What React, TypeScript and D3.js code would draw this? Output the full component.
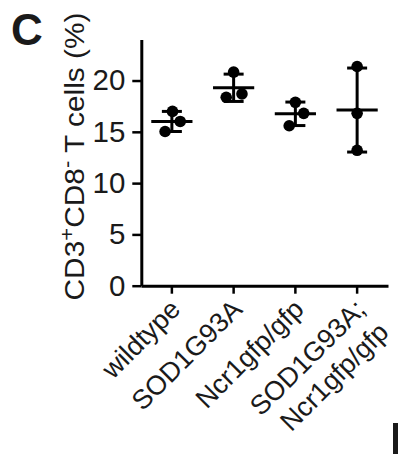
import React, { useEffect, useRef } from 'react'
import * as d3 from 'd3'

// genotypes on the x axis (last one is split over two lines)
const categories = ['wildtype', 'SOD1G93A', 'Ncr1gfp/gfp', 'SOD1G93A;Ncr1gfp/gfp']
const categoryLines = [['wildtype'], ['SOD1G93A'], ['Ncr1gfp/gfp'], ['SOD1G93A;', 'Ncr1gfp/gfp']]

// individual animals, % CD3+CD8- T cells
const wildtypeValues = [16.99, 16.01, 15.03]
const sod1Values = [20.82, 18.69, 18.37]
const ncr1Values = [17.88, 16.8, 15.59]
const doubleValues = [21.37, 16.8, 13.2]
const seriesValues = [wildtypeValues, sod1Values, ncr1Values, doubleValues]

const yTicks = [0, 5, 10, 15, 20]

// horizontal scatter of dots, as a fraction of band width
const jitter = [
    [0.01, 0.135, -0.11],
    [0, 0.135, -0.12],
    [0, 0.135, -0.1],
    [0, 0, 0],
]

const FONT = '"Liberation Sans", Arial, Helvetica, sans-serif'

const App: React.FC = () => {
    const svgRef = useRef<SVGSVGElement | null>(null)

    useEffect(() => {
        if (!svgRef.current) return
        const width = 398
        const height = 454

        const svg = d3.select(svgRef.current).attr('width', width).attr('height', height)
        svg.selectAll('*').remove()

        const x = d3.scaleBand<string>().domain(categories).range([141, 388]).padding(0)
        const y = d3.scaleLinear().domain([0, 24]).range([285.7, 39.5])
        const cx = (c: string) => (x(c) as number) + x.bandwidth() / 2

        // panel letter
        svg.append('text')
            .attr('x', 11)
            .attr('y', 45)
            .attr('font-family', FONT)
            .attr('font-weight', 'bold')
            .attr('font-size', 44)
            .attr('fill', '#1a1a1a')
            .text('C')

        // y axis
        const yAxis = svg
            .append('g')
            .attr('transform', 'translate(141.3,0)')
            .call(d3.axisLeft(y).tickValues(yTicks).tickSize(9).tickSizeOuter(0).tickPadding(7))
        yAxis.select('.domain').attr('stroke-width', 3)
        yAxis.selectAll('.tick line').attr('stroke-width', 2.5)
        yAxis.selectAll('.tick text')
            .attr('font-family', FONT)
            .attr('font-size', 29.5)
            .attr('fill', '#1a1a1a')

        // x axis
        const xAxis = svg
            .append('g')
            .attr('transform', 'translate(0,285.7)')
            .call(d3.axisBottom(x).tickSize(8).tickSizeOuter(0).tickFormat(() => ''))
        xAxis.select('.domain').attr('stroke-width', 3)
        xAxis.selectAll('.tick line').attr('stroke-width', 2.5)

        // x labels, rotated
        categories.forEach((c, i) => {
            const lines = categoryLines[i]
            const t = svg
                .append('text')
                .attr('transform', `translate(${cx(c) + 10},${311}) rotate(-45)`)
                .attr('text-anchor', 'end')
                .attr('font-family', FONT)
                .attr('font-size', 27)
                .attr('fill', '#1a1a1a')
            lines.forEach((ln, j) => {
                t.append('tspan')
                    .attr('x', 0)
                    .attr('dy', j === 0 ? 0 : '1.2em')
                    .text(ln)
            })
        })

        // y label
        const yl = svg
            .append('text')
            .attr('transform', 'translate(83.5,156.5) rotate(-90)')
            .attr('text-anchor', 'middle')
            .attr('font-family', FONT)
            .attr('font-size', 27)
            .attr('fill', '#1a1a1a')
            .attr('textLength', 288)
            .attr('lengthAdjust', 'spacingAndGlyphs')
        yl.append('tspan').text('CD3')
        yl.append('tspan').attr('dy', -10).attr('font-size', 20).text('+')
        yl.append('tspan').attr('dy', 10).text('CD8')
        yl.append('tspan').attr('dy', -10).attr('font-size', 20).text('-')
        yl.append('tspan').attr('dy', 10).text(' T cells (%)')

        // mean ± SD
        const g = svg.append('g').attr('stroke', '#000').attr('stroke-width', 3)
        categories.forEach((c, i) => {
            const vals = seriesValues[i]
            const m = d3.mean(vals) as number
            const sd = d3.deviation(vals) as number
            const xc = cx(c)
            g.append('line')
                .attr('x1', xc).attr('x2', xc)
                .attr('y1', y(m + sd)).attr('y2', y(m - sd))
            ;[m + sd, m - sd].forEach((v) => {
                g.append('line')
                    .attr('x1', xc - 10).attr('x2', xc + 10)
                    .attr('y1', y(v)).attr('y2', y(v))
            })
            g.append('line')
                .attr('x1', xc - 20.6).attr('x2', xc + 20.6)
                .attr('y1', y(m)).attr('y2', y(m))
        })

        // dots
        categories.forEach((c, i) => {
            svg.append('g')
                .selectAll('circle')
                .data(seriesValues[i])
                .join('circle')
                .attr('cx', (_, j) => cx(c) + jitter[i][j] * x.bandwidth())
                .attr('cy', (d) => y(d))
                .attr('r', 5.8)
                .attr('fill', '#000')
        })

        // edge of the neighbouring panel
        svg.append('rect')
            .attr('x', 393)
            .attr('y', 423)
            .attr('width', 5)
            .attr('height', 31)
            .attr('fill', '#1a1a1a')
    }, [])

    return (
        <div style={{ position: 'absolute', left: 0, top: 0, background: '#fff' }}>
            <svg ref={svgRef} style={{ display: 'block' }}></svg>
        </div>
    )
}

export default App
